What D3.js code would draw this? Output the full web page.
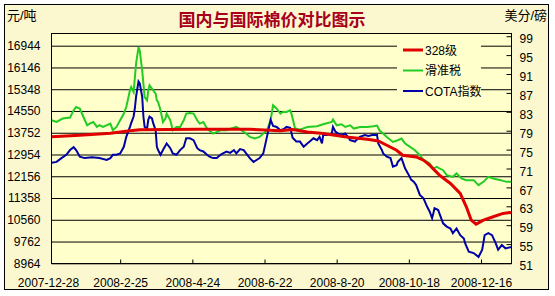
<!DOCTYPE html>
<html>
<head>
<meta charset="utf-8">
<script src="https://cdn.jsdelivr.net/npm/d3@7"></script>
<style>
body { margin: 0; background: #fff; }
text { font-family: "Liberation Sans", "Noto Sans CJK SC", sans-serif; }
</style>
</head>
<body>
<div id="chart"></div>
<script>
width = 555
height = 296

// 328级 (元/吨)
let red328 = [["2007-12-31",13605],["2008-01-23",13660],["2008-02-17",13733],["2008-03-04",13824],["2008-03-12",13861],
    ["2008-04-30",13879],["2008-06-10",13879],["2008-07-05",13824],["2008-07-15",13868],["2008-07-27",13781],
    ["2008-08-09",13722],["2008-08-28",13598],["2008-09-14",13513],["2008-09-23",13451],["2008-09-30",13294],
    ["2008-10-08",13111],["2008-10-13",12928],["2008-10-24",12866],["2008-10-30",12745],["2008-11-04",12562],
    ["2008-11-12",12196],["2008-11-21",11892],["2008-11-29",11526],["2008-12-04",11036],["2008-12-08",10549],
    ["2008-12-12",10402],["2008-12-18",10549],["2008-12-26",10670],["2009-01-03",10794],["2009-01-10",10831]]

// 滑准税 (元/吨)
let slidingTax = [["2007-12-31",14209],["2008-01-04",14146],["2008-01-09",14271],["2008-01-15",14308],["2008-01-18",14575],
    ["2008-01-20",14696],["2008-01-23",14637],["2008-01-26",14330],["2008-01-29",14026],["2008-01-31",14088],
    ["2008-02-03",14146],["2008-02-06",13964],["2008-02-08",14026],["2008-02-11",13964],["2008-02-17",14088],
    ["2008-02-19",13843],["2008-02-22",13964],["2008-02-25",14209],["2008-02-28",14454],["2008-03-01",14696],
    ["2008-03-04",15307],["2008-03-05",15428],["2008-03-07",15245],["2008-03-09",16284],["2008-03-11",16892],
    ["2008-03-12",16771],["2008-03-14",16039],["2008-03-16",15062],["2008-03-18",14941],["2008-03-19",15307],
    ["2008-03-20",15490],["2008-03-23",15307],["2008-03-25",15186],["2008-03-26",14941],["2008-03-27",14879],
    ["2008-03-29",14575],["2008-03-31",14146],["2008-04-02",14271],["2008-04-03",14454],["2008-04-06",14209],
    ["2008-04-08",13843],["2008-04-11",13964],["2008-04-14",13964],["2008-04-17",14209],["2008-04-19",14454],
    ["2008-04-22",14476],["2008-04-25",14454],["2008-04-28",14209],["2008-04-30",14088],["2008-05-03",14146],
    ["2008-05-06",13905],["2008-05-11",13722],["2008-05-17",13843],["2008-05-22",13843],["2008-05-26",13905],
    ["2008-05-30",13964],["2008-06-03",13843],["2008-06-07",13722],["2008-06-10",13598],["2008-06-14",13539],
    ["2008-06-18",13598],["2008-06-24",13843],["2008-06-27",14209],["2008-06-29",14758],["2008-07-02",14637],
    ["2008-07-05",14454],["2008-07-07",14513],["2008-07-10",14513],["2008-07-13",14575],["2008-07-14",14454],
    ["2008-07-16",14088],["2008-07-17",13905],["2008-07-21",13868],["2008-07-27",13964],["2008-08-04",13989],
    ["2008-08-09",14062],["2008-08-16",14146],["2008-08-17",14234],["2008-08-20",14026],["2008-08-24",14062],
    ["2008-08-27",13964],["2008-08-31",14026],["2008-09-03",13905],["2008-09-08",13964],["2008-09-14",13964],
    ["2008-09-19",13989],["2008-09-22",14015],["2008-09-24",13843],["2008-09-30",13598],["2008-10-05",13415],
    ["2008-10-09",13477],["2008-10-12",13539],["2008-10-15",13356],["2008-10-19",13232],["2008-10-23",13111],
    ["2008-10-27",12928],["2008-10-30",12745],["2008-11-02",12683],["2008-11-04",12624],["2008-11-07",12441],
    ["2008-11-10",12500],["2008-11-12",12441],["2008-11-15",12379],["2008-11-18",12196],["2008-11-23",12134],
    ["2008-11-26",12258],["2008-11-30",12075],["2008-12-04",12013],["2008-12-10",12013],["2008-12-14",11830],
    ["2008-12-18",11951],["2008-12-22",12134],["2008-12-26",12075],["2009-01-01",12013],["2009-01-06",11951],
    ["2009-01-10",11951]]

// COTA指数 (美分/磅)
let cotaIndex = [["2007-12-31",72.2],["2008-01-04",72.4],["2008-01-08",73.2],["2008-01-12",73.9],["2008-01-15",74.9],
    ["2008-01-18",75.5],["2008-01-20",74.9],["2008-01-23",73.5],["2008-01-27",73.2],["2008-02-02",73.4],
    ["2008-02-08",73.2],["2008-02-14",72.8],["2008-02-17",73.2],["2008-02-19",73.9],["2008-02-22",73.9],
    ["2008-02-25",74.2],["2008-02-28",75.6],["2008-03-01",77.7],["2008-03-04",79.8],["2008-03-05",80.6],
    ["2008-03-07",82.0],["2008-03-08",83.7],["2008-03-09",86.2],["2008-03-11",89.4],["2008-03-12",89.0],
    ["2008-03-14",86.2],["2008-03-15",82.0],["2008-03-16",79.8],["2008-03-18",79.5],["2008-03-19",81.3],
    ["2008-03-20",82.0],["2008-03-22",81.6],["2008-03-23",80.6],["2008-03-25",79.1],["2008-03-26",75.6],
    ["2008-03-27",74.9],["2008-03-29",73.9],["2008-03-31",74.9],["2008-04-03",76.3],["2008-04-06",75.3],
    ["2008-04-08",74.2],["2008-04-11",73.9],["2008-04-14",74.9],["2008-04-17",75.6],["2008-04-19",77.4],
    ["2008-04-22",77.4],["2008-04-25",77.0],["2008-04-28",75.3],["2008-04-30",74.9],["2008-05-03",74.6],
    ["2008-05-06",73.9],["2008-05-08",73.5],["2008-05-11",73.2],["2008-05-14",73.2],["2008-05-17",73.9],
    ["2008-05-19",74.2],["2008-05-22",74.6],["2008-05-25",74.3],["2008-05-28",74.9],["2008-05-30",74.2],
    ["2008-06-02",75.1],["2008-06-05",74.9],["2008-06-07",74.2],["2008-06-10",73.2],["2008-06-13",72.4],
    ["2008-06-18",73.2],["2008-06-21",74.2],["2008-06-24",77.7],["2008-06-27",81.3],["2008-06-29",80.0],
    ["2008-07-02",79.8],["2008-07-05",79.1],["2008-07-08",79.4],["2008-07-10",79.8],["2008-07-13",79.6],
    ["2008-07-15",77.5],["2008-07-18",76.7],["2008-07-21",76.7],["2008-07-24",75.6],["2008-07-27",76.3],
    ["2008-07-29",76.7],["2008-08-01",77.4],["2008-08-04",77.0],["2008-08-06",77.7],["2008-08-08",76.3],
    ["2008-08-09",78.1],["2008-08-12",78.1],["2008-08-16",78.4],["2008-08-17",79.8],["2008-08-19",78.8],
    ["2008-08-21",78.4],["2008-08-24",78.1],["2008-08-27",78.4],["2008-08-30",77.4],["2008-08-31",77.0],
    ["2008-09-04",76.7],["2008-09-05",77.0],["2008-09-08",77.7],["2008-09-12",78.1],["2008-09-15",77.9],
    ["2008-09-18",78.1],["2008-09-22",78.1],["2008-09-23",76.3],["2008-09-26",74.9],["2008-09-27",74.2],
    ["2008-09-30",73.5],["2008-10-03",73.2],["2008-10-05",71.4],["2008-10-08",71.7],["2008-10-09",72.4],
    ["2008-10-12",73.2],["2008-10-15",71.0],["2008-10-18",69.6],["2008-10-20",68.6],["2008-10-22",68.2],
    ["2008-10-24",67.5],["2008-10-27",65.4],["2008-10-30",64.7],["2008-11-02",62.9],["2008-11-04",61.9],
    ["2008-11-06",60.5],["2008-11-07",61.5],["2008-11-08",62.6],["2008-11-11",62.2],["2008-11-12",61.5],
    ["2008-11-15",59.4],["2008-11-18",58.7],["2008-11-21",58.3],["2008-11-23",57.3],["2008-11-26",58.3],
    ["2008-11-29",56.9],["2008-12-02",56.2],["2008-12-03",55.2],["2008-12-06",53.4],["2008-12-10",53.1],
    ["2008-12-14",52.3],["2008-12-17",53.8],["2008-12-19",56.9],["2008-12-22",57.3],["2008-12-25",56.9],
    ["2008-12-28",55.2],["2008-12-30",53.8],["2009-01-02",54.8],["2009-01-05",54.1],["2009-01-10",54.4]]

let leftTicks = [8964, 9762, 10560, 11358, 12156, 12954, 13752, 14550, 15348, 16146, 16944]
let rightTicks = [51, 55, 59, 63, 67, 71, 75, 79, 83, 87, 91, 95, 99]
let dateTicks = ["2007-12-28", "2008-2-25", "2008-4-24", "2008-6-22", "2008-8-20", "2008-10-18", "2008-12-16"]

let legendItems = [
    { name: "328级", color: "#e00000", w: 3 },
    { name: "滑准税", color: "#22cc22", w: 2 },
    { name: "COTA指数", color: "#0000a8", w: 2 }
]

let parse = d3.timeParse("%Y-%m-%d")
let parseTick = d3.timeParse("%Y-%m-%d")

let plot = { left: 51.5, right: 511.5, top: 33.5, bottom: 263.5 }

let svg = d3.select("#chart")
    .append("svg")
    .attr("width", width)
    .attr("height", height)

// outer frame
svg.append("rect")
    .attr("x", 4.5).attr("y", 4.5)
    .attr("width", 544).attr("height", 285)
    .attr("fill", "#fbf8cf")
    .attr("stroke", "#000")

svg.append("rect")
    .attr("x", plot.left).attr("y", plot.top)
    .attr("width", plot.right - plot.left).attr("height", plot.bottom - plot.top)
    .attr("fill", "#ffffcc")

let x = d3.scaleTime()
    .domain([parse("2007-12-28"), parse("2008-12-16")])
    .range([48, 481])

let yLeft = d3.scaleLinear()
    .domain([8964, 16944])
    .range([263.3, 45.7])

let yRight = d3.scaleLinear()
    .domain([51, 99])
    .range([263, 36.2])

// left axis + gridlines
let leftAxis = svg.append("g")
    .attr("transform", "translate(" + plot.left + ",0)")
    .call(d3.axisLeft(yLeft).tickValues(leftTicks).tickFormat(d3.format("d"))
        .tickSizeInner(-(plot.right - plot.left)).tickSizeOuter(0).tickPadding(11))
leftAxis.select(".domain").remove()
leftAxis.selectAll("line").attr("stroke", "#000")
leftAxis.selectAll("text").attr("font-size", 12).attr("fill", "#000")

// right axis
let rightAxis = svg.append("g")
    .attr("transform", "translate(" + plot.right + ",0)")
    .call(d3.axisRight(yRight).tickValues(rightTicks)
        .tickSizeInner(-5).tickSizeOuter(0).tickPadding(8))
rightAxis.select(".domain").remove()
rightAxis.selectAll("line").attr("stroke", "#000")
rightAxis.selectAll("text").attr("font-size", 12).attr("fill", "#000").attr("dy", "0.55em")

// bottom axis
let bottomAxis = svg.append("g")
    .attr("transform", "translate(0," + plot.bottom + ")")
    .call(d3.axisBottom(x).tickValues(dateTicks.map(d => d3.timeParse("%Y-%m-%d")(d.replace(/-(\d)(?=-|$)/g, "-0$1"))))
        .tickFormat(d3.timeFormat("%Y-%-m-%-d"))
        .tickSizeInner(-4).tickSizeOuter(0).tickPadding(15))
bottomAxis.select(".domain").remove()
bottomAxis.selectAll("line").attr("stroke", "#000")
    .filter((d, i) => i == 0).remove()
bottomAxis.selectAll("text").attr("font-size", 12).attr("fill", "#000")

// plot border
svg.append("rect")
    .attr("x", plot.left).attr("y", plot.top)
    .attr("width", plot.right - plot.left).attr("height", plot.bottom - plot.top)
    .attr("fill", "none")
    .attr("stroke", "#000")

svg.append("clipPath").attr("id", "clip")
    .append("rect")
    .attr("x", plot.left).attr("y", plot.top)
    .attr("width", plot.right - plot.left).attr("height", plot.bottom - plot.top)

// legend backing (covers gridlines)
let legend = svg.append("g")
legend.append("rect")
    .attr("x", 397).attr("y", 40)
    .attr("width", 84).attr("height", 61)
    .attr("fill", "#ffffcc")

let lines = svg.append("g").attr("clip-path", "url(#clip)")

let leftLine = d3.line().x(d => x(parse(d[0]))).y(d => yLeft(d[1]))
let rightLine = d3.line().x(d => x(parse(d[0]))).y(d => yRight(d[1]))

lines.append("path")
    .attr("d", leftLine(slidingTax))
    .attr("fill", "none").attr("stroke", legendItems[1].color).attr("stroke-width", 2)

lines.append("path")
    .attr("d", rightLine(cotaIndex))
    .attr("fill", "none").attr("stroke", legendItems[2].color).attr("stroke-width", 2)

lines.append("path")
    .attr("d", leftLine(red328))
    .attr("fill", "none").attr("stroke", legendItems[0].color).attr("stroke-width", 3)

legendItems.forEach((item, i) => {
    let row = legend.append("g")
        .attr("transform", "translate(403," + (50 + i * 20.5) + ")")
    row.append("line")
        .attr("x1", 0).attr("x2", 20)
        .attr("stroke", item.color).attr("stroke-width", item.w)
    row.append("text")
        .attr("x", 22).attr("y", 4.5)
        .attr("font-size", 12)
        .text(item.name)
})

// title and units
svg.append("text")
    .attr("x", 272).attr("y", 26)
    .attr("text-anchor", "middle")
    .attr("font-size", 17).attr("font-weight", "bold")
    .attr("fill", "#a8001c")
    .style("font-family", "'Noto Sans CJK SC', sans-serif")
    .text("国内与国际棉价对比图示")

svg.append("text")
    .attr("x", 7).attr("y", 20)
    .attr("font-size", 13)
    .text("元/吨")

svg.append("text")
    .attr("x", 547).attr("y", 20)
    .attr("text-anchor", "end")
    .attr("font-size", 13)
    .text("美分/磅")
</script>
</body>
</html>
